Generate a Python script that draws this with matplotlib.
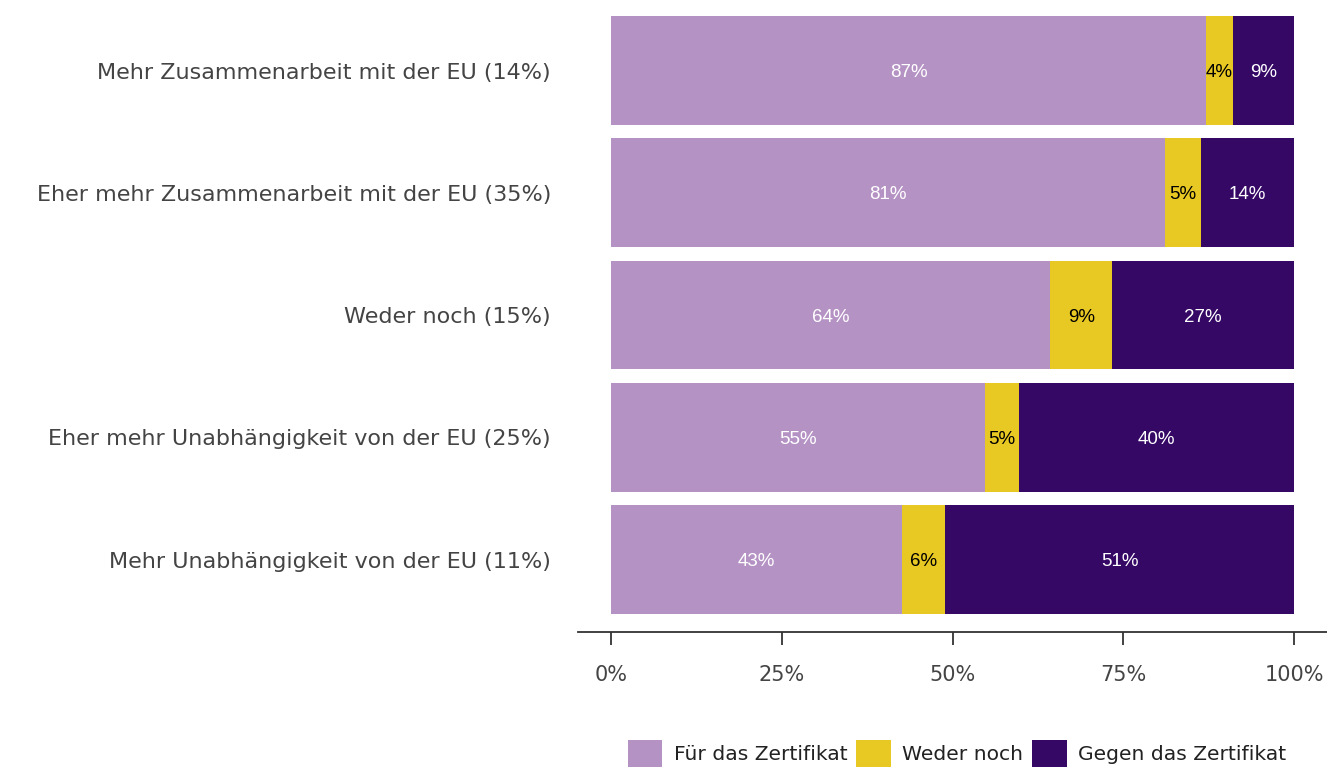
import matplotlib
matplotlib.use("Agg")
import matplotlib.pyplot as plt
import numpy as np

categories = [
    "Mehr Zusammenarbeit mit der EU (14%)",
    "Eher mehr Zusammenarbeit mit der EU (35%)",
    "Weder noch (15%)",
    "Eher mehr Unabhängigkeit von der EU (25%)",
    "Mehr Unabhängigkeit von der EU (11%)",
]
fuer = [87.1, 81.1, 64.3, 54.8, 42.6]
weder = [4.0, 5.3, 9.1, 4.9, 6.3]
gegen = [8.9, 13.6, 26.6, 40.3, 51.1]
series_names = ["Für das Zertifikat", "Weder noch", "Gegen das Zertifikat"]
colors = ["#b592c4", "#e8c822", "#350866"]
label_colors = ["white", "black", "white"]
ticks = [0, 25, 50, 75, 100]

plt.rcParams['font.family'] = ['DejaVu Sans']

fig = plt.figure(figsize=(13.27, 7.67), dpi=100)
ax = fig.add_axes([578 / 1327, (767 - 632) / 767, 1 - 578 / 1327, 632 / 767])

y = np.arange(len(categories))
left = np.zeros(len(categories))
for vals, name, col, lcol in zip([fuer, weder, gegen], series_names, colors, label_colors):
    vals = np.array(vals)
    ax.barh(y, vals, left=left, height=0.89, color=col, label=name, edgecolor="none")
    for yi, l, v in zip(y, left, vals):
        ax.text(l + v / 2, yi, f"{round(v)}%", ha="center", va="center_baseline",
                color=lcol, fontsize=13.5, family="Liberation Sans")
    left += vals

ax.set_xlim(-4.83, 104.83)
ax.set_ylim(4.593, -0.577)
ax.set_yticks(y)
ax.set_yticklabels(categories, fontsize=16, color="#444444")
ax.tick_params(axis="y", length=0, pad=19.5)
ax.set_xticks(ticks)
ax.set_xticklabels([f"{t}%" for t in ticks], fontsize=15, color="#444444")
ax.tick_params(axis="x", length=9, width=1.3, color="#333333", pad=15)
for s in ["top", "right", "left"]:
    ax.spines[s].set_visible(False)
ax.spines["bottom"].set_linewidth(1.3)
ax.spines["bottom"].set_color("#333333")

fig.legend(loc="upper left", bbox_to_anchor=(628 / 1327, 27 / 767), ncol=3,
           frameon=False, fontsize=14.6, handlelength=1.7, handleheight=1.7,
           handletextpad=0.55, columnspacing=0.45, borderpad=0, borderaxespad=0,
           labelcolor="#222222")

fig.savefig("out.png", dpi=100)
